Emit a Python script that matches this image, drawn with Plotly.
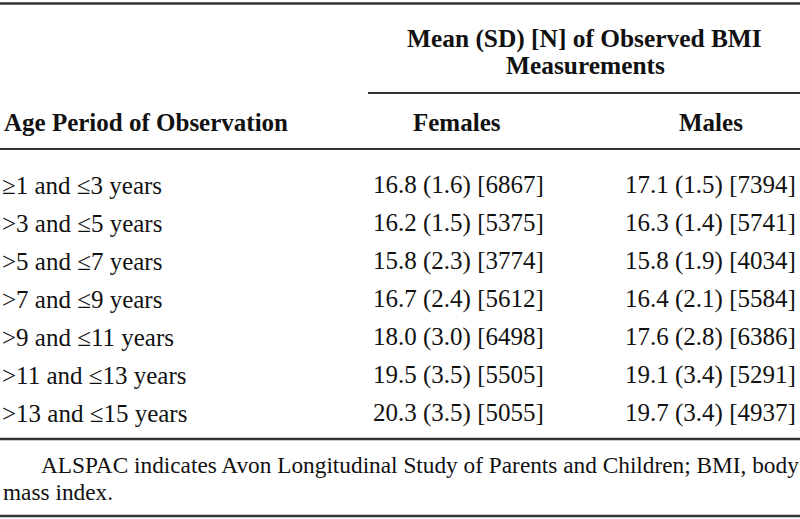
import plotly.graph_objects as go

age_periods = ["≥1 and ≤3 years", ">3 and ≤5 years", ">5 and ≤7 years", ">7 and ≤9 years",
               ">9 and ≤11 years", ">11 and ≤13 years", ">13 and ≤15 years"]
female_mean = [16.8, 16.2, 15.8, 16.7, 18.0, 19.5, 20.3]
female_sd = [1.6, 1.5, 2.3, 2.4, 3.0, 3.5, 3.5]
female_n = [6867, 5375, 3774, 5612, 6498, 5505, 5055]
male_mean = [17.1, 16.3, 15.8, 16.4, 17.6, 19.1, 19.7]
male_sd = [1.5, 1.4, 1.9, 2.1, 2.8, 3.4, 3.4]
male_n = [7394, 5741, 4034, 5584, 6386, 5291, 4937]

header_row = "Age Period of Observation"
col_headers = ["Females", "Males"]
footnote_1 = "ALSPAC indicates Avon Longitudinal Study of Parents and Children; BMI, body"
footnote_2 = "mass index."

W, H = 800, 519
FONT = "Liberation Serif, Times New Roman, serif"
TXT = "#111111"
LINE = "#333333"

fig = go.Figure()
fig.add_trace(go.Scatter(x=[0, W], y=[0, H], mode="markers", marker=dict(opacity=0), hoverinfo="skip", showlegend=False))

ann = []
def add(x, y, text, size=25, bold=False, xanchor="center"):
    t = f"<b>{text}</b>" if bold else text
    ann.append(dict(x=x, y=y, xref="x", yref="y", text=t, showarrow=False, xanchor=xanchor,
                    yanchor="middle", font=dict(family=FONT, size=size, color=TXT)))

add(584, 38, "Mean (SD) [N] of Observed BMI", size=25.4, bold=True)
add(585, 65, "Measurements", size=25.4, bold=True)
add(2, 122, header_row, bold=True, xanchor="left")
add(457, 122, col_headers[0], bold=True)
add(711, 122, col_headers[1], bold=True)

row_y0, row_dy = 185, 38
for i, lab in enumerate(age_periods):
    y = row_y0 + i * row_dy
    add(0, y, lab, xanchor="left")
    add(458, y, f"{female_mean[i]:.1f} ({female_sd[i]:.1f}) [{female_n[i]}]")
    add(710, y, f"{male_mean[i]:.1f} ({male_sd[i]:.1f}) [{male_n[i]}]")

add(39, 465, footnote_1, size=23.3, xanchor="left")
add(1, 492, footnote_2, size=23.3, xanchor="left")

shapes = []
def hline(x0, x1, y, w=2):
    shapes.append(dict(type="line", xref="x", yref="y", x0=x0, x1=x1, y0=y, y1=y,
                       line=dict(color=LINE, width=w)))
hline(0, W, 3.5, 2.5)
hline(368, W, 93, 2)
hline(0, W, 149, 2)
hline(0, W, 439, 2.5)
hline(0, W, 516, 2.5)

fig.update_layout(
    width=W, height=H, margin=dict(l=0, r=0, t=0, b=0),
    paper_bgcolor="white", plot_bgcolor="white",
    xaxis=dict(range=[0, W], visible=False, fixedrange=True),
    yaxis=dict(range=[H, 0], visible=False, fixedrange=True),
    annotations=ann, shapes=shapes, showlegend=False,
)
fig.write_html("out.html", config={"displayModeBar": False},
               post_script="document.body.style.margin='0';document.body.style.overflow='hidden';")
